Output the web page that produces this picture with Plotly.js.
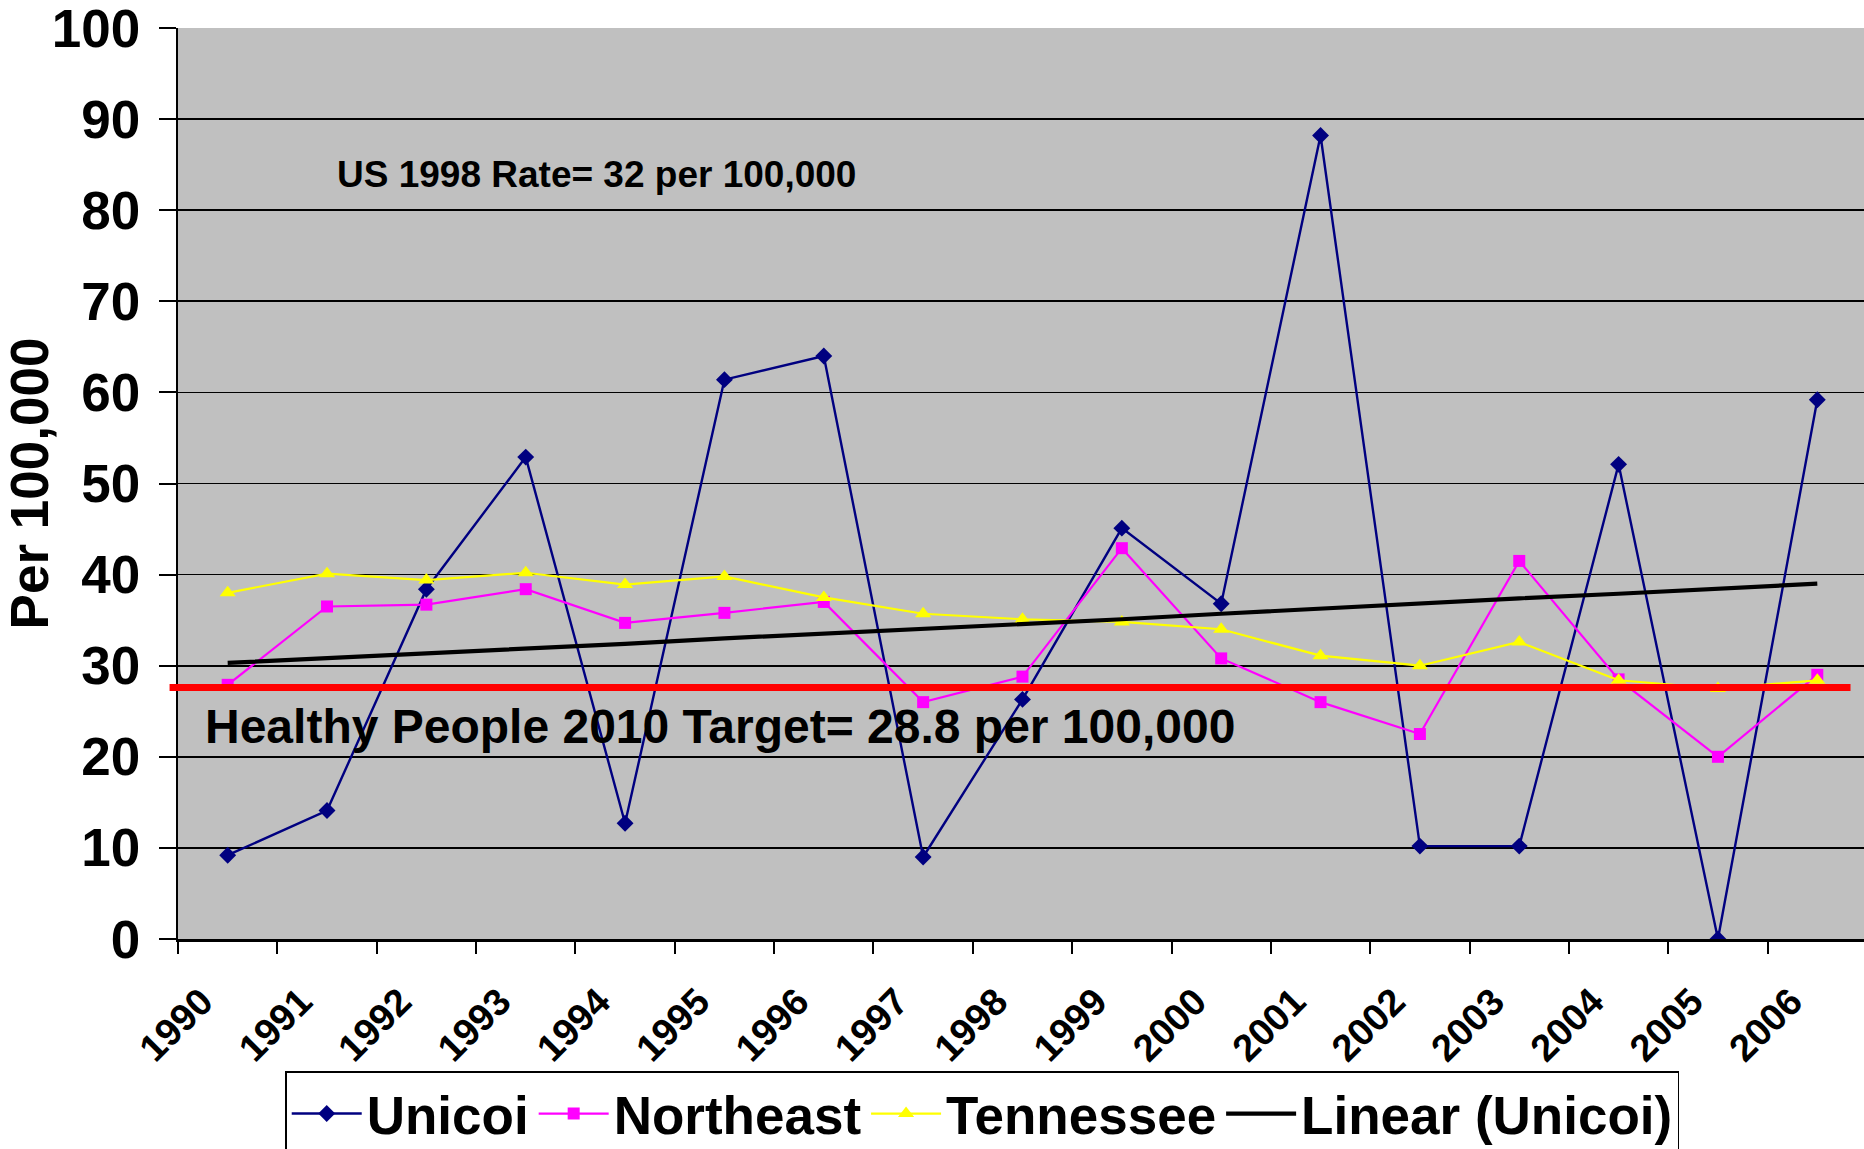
<!DOCTYPE html>
<html>
<head>
<meta charset="utf-8">
<script src="https://cdn.plot.ly/plotly-3.0.1.min.js"></script>
<style>
  html, body { margin: 0; padding: 0; background: #ffffff; }
  #chart { width: 1864px; height: 1149px; }
</style>
</head>
<body>
<div id="chart"></div>
<script>
// ---- Data ----
const years = ['1990','1991','1992','1993','1994','1995','1996','1997','1998','1999','2000','2001','2002','2003','2004','2005','2006'];
const unicoi = [9.2, 14.1, 38.4, 52.9, 12.7, 61.4, 64.0, 9.0, 26.3, 45.1, 36.8, 88.2, 10.2, 10.2, 52.1, 0, 59.2];
const northeast = [27.9, 36.5, 36.7, 38.4, 34.7, 35.8, 37.0, 26.0, 28.8, 42.9, 30.8, 26.0, 22.5, 41.5, 28.5, 20.0, 29.0];
const tennessee = [38.0, 40.1, 39.4, 40.2, 38.9, 39.8, 37.5, 35.7, 35.1, 34.8, 34.0, 31.1, 30.0, 32.6, 28.4, 27.5, 28.4];
const linearUnicoi = [30.3, 30.8, 31.3, 31.9, 32.4, 33.0, 33.5, 34.1, 34.6, 35.1, 35.7, 36.3, 36.8, 37.4, 37.9, 38.5, 39.0];
const targetLevel = 27.6;
const seriesNames = ['Unicoi', 'Northeast', 'Tennessee', 'Linear (Unicoi)'];
const yTickVals = [0, 10, 20, 30, 40, 50, 60, 70, 80, 90, 100];
const usRateText = 'US 1998 Rate= 32 per 100,000';
const targetText = 'Healthy People 2010 Target= 28.8 per 100,000';

const FONT = 'Liberation Sans, Arial, Helvetica, sans-serif';

const traces = [
  {
    x: years, y: unicoi, name: seriesNames[0], type: 'scatter', mode: 'lines+markers',
    line: { color: '#000080', width: 2.4 },
    marker: { symbol: 'diamond', size: 13, color: '#000080' }
  },
  {
    x: years, y: northeast, name: seriesNames[1], type: 'scatter', mode: 'lines+markers',
    line: { color: '#FF00FF', width: 2.2 },
    marker: { symbol: 'square', size: 12, color: '#FF00FF' }
  },
  {
    x: years, y: tennessee, name: seriesNames[2], type: 'scatter', mode: 'lines+markers',
    line: { color: '#FFFF00', width: 2.2 },
    marker: { symbol: 'triangle-up', size: 14, color: '#FFFF00' }
  },
  {
    x: years, y: linearUnicoi, name: seriesNames[3], type: 'scatter', mode: 'lines',
    line: { color: '#000000', width: 4.2 }
  }
];

const layout = {
  width: 1864,
  height: 1149,
  margin: { l: 178, r: 0, t: 28, b: 210, autoexpand: false },
  paper_bgcolor: '#ffffff',
  plot_bgcolor: '#C0C0C0',
  font: { family: FONT, color: '#000000' },
  showlegend: true,
  xaxis: {
    type: 'category',
    categoryorder: 'array',
    categoryarray: years,
    range: [-0.5, 16.47],
    tickson: 'boundaries',
    ticks: 'outside',
    ticklen: 12,
    tickwidth: 2,
    tickcolor: '#000000',
    tickangle: -45,
    tickfont: { family: FONT, size: 38, weight: 'bold', color: '#000000' },
    ticklabelstandoff: 22,
    ticklabelshift: -26,
    ticklabeloverflow: 'allow',
    showgrid: false,
    showline: true,
    linecolor: '#000000',
    linewidth: 3,
    zeroline: false,
    fixedrange: true
  },
  yaxis: {
    range: [0, 100],
    tickvals: yTickVals,
    ticktext: yTickVals.map(String),
    ticks: 'outside',
    ticklen: 17,
    tickwidth: 2,
    tickcolor: '#000000',
    tickfont: { family: FONT, size: 53, weight: 'bold', color: '#000000' },
    ticklabelstandoff: 8,
    ticklabeloverflow: 'allow',
    showgrid: true,
    gridcolor: '#000000',
    gridwidth: 1.8,
    showline: true,
    linecolor: '#000000',
    linewidth: 2.2,
    zeroline: false,
    title: { text: 'Per 100,000', font: { family: FONT, size: 53, weight: 'bold', color: '#000000' }, standoff: 0 },
    fixedrange: true
  },
  legend: {
    orientation: 'h',
    x: 0.477, xanchor: 'center',
    y: -0.145, yanchor: 'top',
    bgcolor: '#ffffff',
    bordercolor: '#000000',
    borderwidth: 1.5,
    font: { family: FONT, size: 53, weight: 'bold', color: '#000000' },
    itemwidth: 70,
    traceorder: 'normal'
  },
  shapes: [
    {
      type: 'line', layer: 'above',
      xref: 'paper', yref: 'y',
      x0: -0.005, x1: 0.992,
      y0: targetLevel, y1: targetLevel,
      line: { color: '#FF0000', width: 7 }
    }
  ],
  annotations: [
    {
      text: usRateText, xref: 'paper', yref: 'y', x: 0.093, y: 83.9,
      xanchor: 'left', yanchor: 'middle', showarrow: false,
      font: { family: FONT, size: 37, weight: 'bold', color: '#000000' }
    },
    {
      text: targetText, xref: 'paper', yref: 'y', x: 0.0148, y: 23.3,
      xanchor: 'left', yanchor: 'middle', showarrow: false,
      font: { family: FONT, size: 48, weight: 'bold', color: '#000000' }
    }
  ]
};

Plotly.newPlot('chart', traces, layout, { displayModeBar: false, staticPlot: true });
</script>
</body>
</html>
